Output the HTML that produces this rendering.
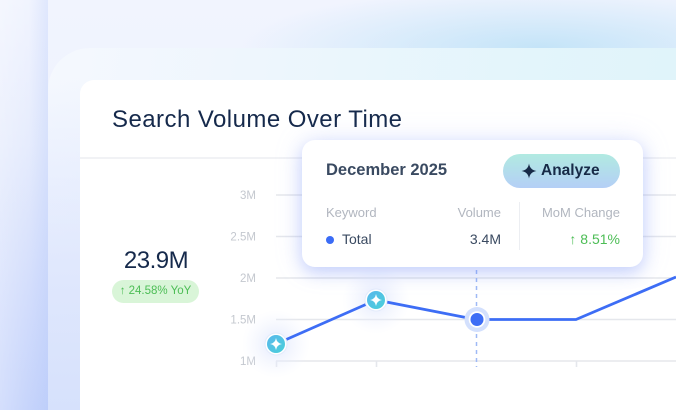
<!DOCTYPE html>
<html><head><meta charset="utf-8"><style>
*{margin:0;padding:0;box-sizing:border-box}
html,body{width:676px;height:410px;overflow:hidden}
body{position:relative;font-family:"Liberation Sans",sans-serif;
background:
radial-gradient(ellipse 300px 60px at 540px 48px, rgba(196,228,248,1), rgba(196,228,248,0) 100%),
linear-gradient(180deg,#f1f4fe 0%,#eaf0fd 100%);}
.bgl{position:absolute;left:0;top:0;width:48px;height:410px;
background:
linear-gradient(90deg,rgba(255,255,255,0.25) 0%,rgba(255,255,255,0) 60%,rgba(160,185,248,0.22) 100%),
linear-gradient(180deg,#f1f4fe 0%,#e6ecfd 35%,#d4defc 70%,#c6d4fb 100%);}
.outer{position:absolute;left:48px;top:48px;width:628px;height:362px;border-radius:42px 0 0 0;overflow:hidden;
background:linear-gradient(100deg,#f5f8fe 0%,#eef6fd 30%,#e3f5fb 70%,#dff3fa 100%);}
.outer i{position:absolute;left:0;top:0;width:32px;height:100%;
background:linear-gradient(180deg,rgba(240,244,254,0) 8%,rgba(222,230,253,0.9) 60%,#d6e1fc 100%);}
.card{position:absolute;left:80px;top:80px;width:596px;height:330px;border-radius:14px 0 0 0;background:#fff;}
.sep{position:absolute;left:80px;top:157px;width:596px;height:2px;background:#f1f2f5;}
.title{position:absolute;left:112px;top:106px;font-size:24px;color:#15294b;letter-spacing:0.45px;white-space:nowrap}
.big{position:absolute;left:96px;width:120px;text-align:center;top:247px;font-size:24px;color:#15294b;letter-spacing:-0.5px}
.pill{position:absolute;left:112px;top:280px;width:87px;height:23px;border-radius:12px;background:#d9f5d8;color:#4cbd55;font-size:11.5px;text-align:center;line-height:23px;white-space:nowrap}
svg{position:absolute;left:0;top:0}
.tip{position:absolute;left:302px;top:140px;width:341px;height:127px;border-radius:13px;background:#fff;
box-shadow:0 6px 16px rgba(100,130,245,0.3),0 0 28px rgba(150,170,250,0.22);}
.tip .t{position:absolute;left:24px;top:21px;font-size:16.5px;font-weight:bold;color:#3a4a61;white-space:nowrap}
.btn{position:absolute;left:201px;top:14px;width:117px;height:34px;border-radius:17px;
background:linear-gradient(180deg,#b1eae1 0%,#b4cff6 100%);font-size:15.5px;font-weight:bold;color:#172a47;line-height:34px;white-space:nowrap}
.btn span{position:absolute;left:38px;top:0}
.btn svg{position:absolute;left:18px;top:9px}
.h{position:absolute;top:65px;font-size:13px;color:#b1b6bf;white-space:nowrap}
.r{position:absolute;top:91px;font-size:14px;color:#3a4a61;white-space:nowrap}
.div{position:absolute;left:217px;top:62px;width:1px;height:48px;background:#eceef2}
.dot{position:absolute;left:24px;top:96px;width:8px;height:8px;border-radius:50%;background:#3b6cf6}
</style></head><body>
<div class="bgl"></div>
<div class="outer"><i></i></div>
<div class="card"></div>
<div class="sep"></div>
<div class="title">Search Volume Over Time</div>
<div class="big">23.9M</div>
<div class="pill">↑ 24.58% YoY</div>

<svg width="676" height="410" viewBox="0 0 676 410">
<defs>
<radialGradient id="gl" cx="50%" cy="50%" r="50%">
<stop offset="0" stop-color="#dfe6fd" stop-opacity="0.9"/>
<stop offset="1" stop-color="#eef2fe" stop-opacity="0"/>
</radialGradient>
<linearGradient id="mk" x1="0" y1="0" x2="1" y2="1">
<stop offset="0" stop-color="#5ab8ec"/>
<stop offset="1" stop-color="#49cfd9"/>
</linearGradient>
</defs>
<g font-family="Liberation Sans, sans-serif" font-size="11.5" fill="#c4c8cf" text-anchor="end">
<text x="256" y="199">3M</text>
<text x="256" y="240.5">2.5M</text>
<text x="256" y="282">2M</text>
<text x="256" y="323.5">1.5M</text>
<text x="256" y="365">1M</text>
</g>
<g stroke="#e5e7ec" stroke-width="1.6">
<line x1="276" y1="195" x2="676" y2="195"/>
<line x1="276" y1="236.5" x2="676" y2="236.5"/>
<line x1="276" y1="278" x2="676" y2="278"/>
<line x1="276" y1="319.5" x2="676" y2="319.5"/>
<line x1="276" y1="361" x2="676" y2="361"/>
<line x1="276.5" y1="361" x2="276.5" y2="367"/>
<line x1="376.5" y1="361" x2="376.5" y2="367"/>
<line x1="576.5" y1="361" x2="576.5" y2="367"/>
</g>
<line x1="476.5" y1="262" x2="476.5" y2="367" stroke="#9fb9f6" stroke-width="1.5" stroke-dasharray="4 4"/>
<circle cx="276" cy="344" r="34" fill="url(#gl)"/>
<circle cx="376" cy="300" r="34" fill="url(#gl)"/>
<polyline points="276,344 376,300 476,319.5 576,319.5 676,277" fill="none" stroke="#3d6df5" stroke-width="2.8" stroke-linejoin="round"/>
<g>
<circle cx="276" cy="344" r="11" fill="#fff" stroke="#e3ebfb" stroke-width="1"/>
<circle cx="276" cy="344" r="9" fill="url(#mk)"/>
<path d="M276 338 Q276.8 343.2 282 344 Q276.8 344.8 276 350 Q275.2 344.8 270 344 Q275.2 343.2 276 338Z" fill="#fff"/>
<circle cx="376" cy="300" r="11" fill="#fff" stroke="#e3ebfb" stroke-width="1"/>
<circle cx="376" cy="300" r="9" fill="url(#mk)"/>
<path d="M376 294 Q376.8 299.2 382 300 Q376.8 300.8 376 306 Q375.2 300.8 370 300 Q375.2 299.2 376 294Z" fill="#fff"/>
</g>
<circle cx="477" cy="319.5" r="12.5" fill="#d3e0fd"/>
<circle cx="477" cy="319.5" r="8.3" fill="#fff"/>
<circle cx="477" cy="319.5" r="6.5" fill="#3d6df5"/>
</svg>

<div class="tip">
<div class="t">December 2025</div>
<div class="btn"><svg width="16" height="16" viewBox="0 0 16 16"><path d="M8 0.5 Q9 7 15.5 8 Q9 9 8 15.5 Q7 9 0.5 8 Q7 7 8 0.5Z" fill="#172a47"/></svg><span>Analyze</span></div>
<div class="h" style="left:24px">Keyword</div>
<div class="h" style="right:142px">Volume</div>
<div class="h" style="right:23px">MoM Change</div>
<div class="div"></div>
<div class="dot"></div>
<div class="r" style="left:40px">Total</div>
<div class="r" style="right:142px">3.4M</div>
<div class="r" style="right:23px;color:#4cbd55">↑ 8.51%</div>
</div>
</body></html>
